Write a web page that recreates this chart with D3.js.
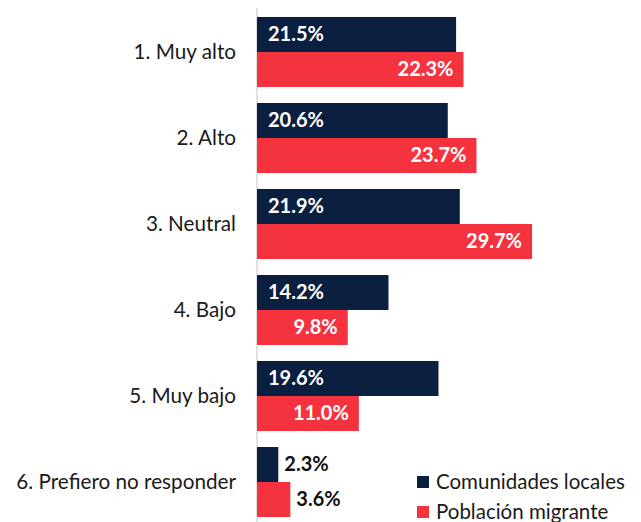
<!DOCTYPE html>
<html>
<head>
<meta charset="utf-8">
<script src="https://cdn.jsdelivr.net/npm/d3@7"></script>
<style>
  body { margin: 0; background: white; }
  text { font-family: Lato, "Open Sans", sans-serif; }
</style>
</head>
<body>
<div id="chart"></div>
<script>
// data
let categories = ["1. Muy alto", "2. Alto", "3. Neutral", "4. Bajo", "5. Muy bajo", "6. Prefiero no responder"];
let series = ["Comunidades locales", "Población migrante"];
let locales = [21.5, 20.6, 21.9, 14.2, 19.6, 2.3];
let migrantes = [22.3, 23.7, 29.7, 9.8, 11.0, 3.6];
let colors = ["#0b1f40", "#f5333f"];

let W = 641, H = 522;
let x0 = 257;

let svg = d3.select("#chart")
  .append("svg")
  .attr("width", W)
  .attr("height", H);

let x = d3.scaleLinear().domain([0, 10]).range([x0, x0 + 92.6]);

let y = d3.scaleBand()
  .domain(categories)
  .range([9, 525])
  .paddingInner(0.186)
  .paddingOuter(0.093);

let ySub = d3.scaleBand()
  .domain(series)
  .range([0, y.bandwidth()]);

let rows = categories.map(function (c, i) {
  return [
    { cat: c, key: series[0], value: locales[i] },
    { cat: c, key: series[1], value: migrantes[i] }
  ];
});

// axis line
svg.append("line")
  .attr("x1", x0).attr("x2", x0)
  .attr("y1", 8).attr("y2", H)
  .attr("stroke", "#d9d9d9")
  .attr("stroke-width", 1.5);

// category labels
svg.append("g")
  .selectAll("text")
  .data(categories)
  .join("text")
  .attr("x", 236)
  .attr("y", d => y(d) + y.bandwidth() / 2)
  .attr("dy", "0.35em")
  .attr("text-anchor", "end")
  .attr("font-size", 20.7)
  .attr("fill", "#1a1a1a")
  .text(d => d);

let groups = svg.append("g")
  .selectAll("g")
  .data(rows)
  .join("g")
  .attr("transform", d => `translate(0, ${y(d[0].cat)})`);

groups.selectAll("rect")
  .data(d => d)
  .join("rect")
  .attr("x", x(0))
  .attr("y", d => ySub(d.key))
  .attr("width", d => x(d.value) - x(0))
  .attr("height", ySub.bandwidth())
  .attr("fill", (d, i) => colors[i]);

// value labels
groups.selectAll("text")
  .data(d => d)
  .join("text")
  .attr("y", d => ySub(d.key) + ySub.bandwidth() / 2)
  .attr("dy", "0.35em")
  .attr("font-size", 20)
  .attr("font-weight", "bold")
  .attr("x", function (d, i) {
    if (d.value < 5) return x(d.value) + 6;
    if (i == 0) return x(0) + 11;
    return x(d.value) - 10;
  })
  .attr("text-anchor", function (d, i) {
    if (d.value < 5 || i == 0) return "start";
    return "end";
  })
  .attr("fill", d => d.value < 5 ? "#111" : "white")
  .text(d => d.value.toFixed(1) + "%");

// legend
let legend = svg.append("g")
  .selectAll("g")
  .data(series)
  .join("g")
  .attr("transform", (d, i) => `translate(417, ${482 + i * 30})`);

legend.append("rect")
  .attr("x", 0).attr("y", -6)
  .attr("width", 12).attr("height", 12)
  .attr("fill", (d, i) => colors[i]);

legend.append("text")
  .attr("x", 19)
  .attr("dy", "0.35em")
  .attr("font-size", 20.5)
  .attr("fill", "#1a1a1a")
  .text(d => d);
</script>
</body>
</html>
